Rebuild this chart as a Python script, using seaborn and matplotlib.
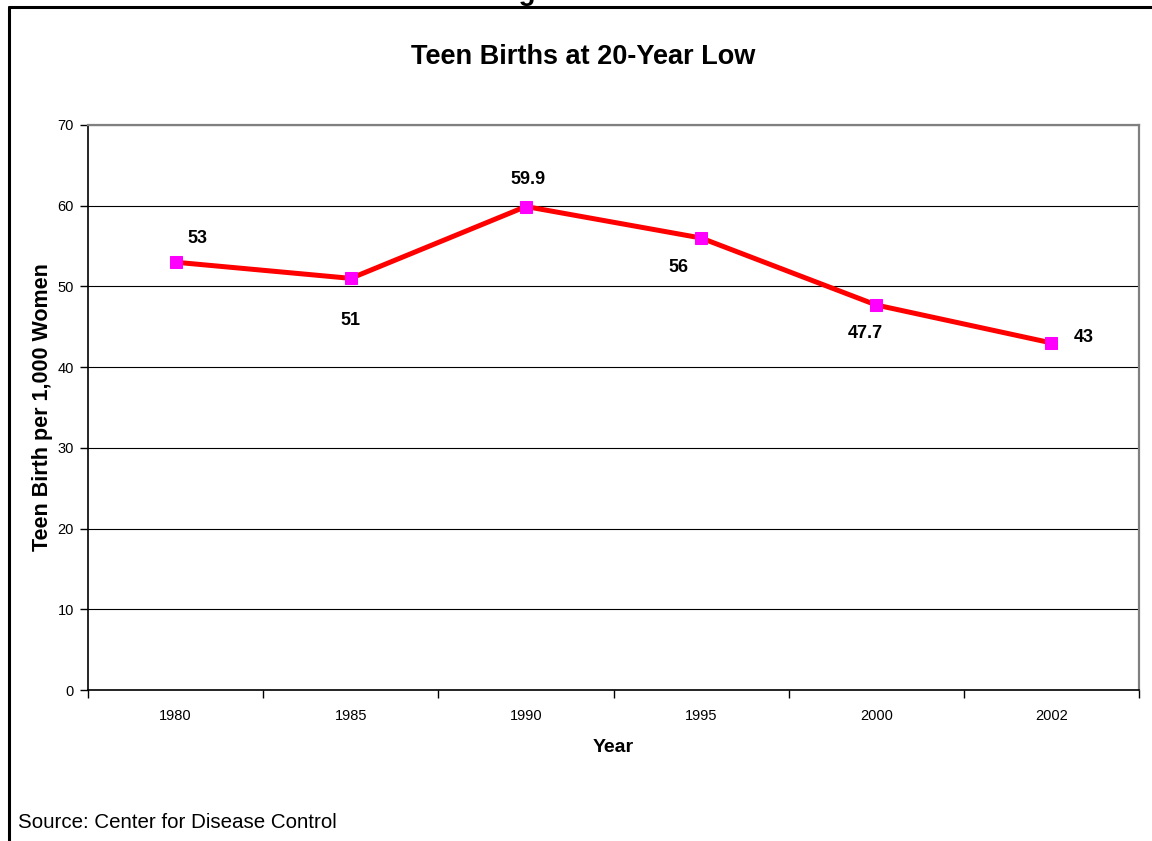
import matplotlib
matplotlib.use("Agg")
import matplotlib.pyplot as plt
from matplotlib.lines import Line2D
import seaborn as sns
import pandas as pd

years = ["1980", "1985", "1990", "1995", "2000", "2002"]
births = [53, 51, 59.9, 56, 47.7, 43]
value_labels = ["53", "51", "59.9", "56", "47.7", "43"]
y_ticks = [0, 10, 20, 30, 40, 50, 60, 70]

sns.set_theme(style="white")
plt.rcParams["font.family"] = ["Liberation Sans", "DejaVu Sans"]
plt.rcParams.update({"text.color": "black", "axes.labelcolor": "black",
                     "xtick.color": "black", "ytick.color": "black"})

df = pd.DataFrame({"Year": years, "Births": births})

fig = plt.figure(figsize=(11.52, 8.41), dpi=100)
ax = fig.add_axes([88 / 1152, 1 - 690 / 841, (1139 - 88) / 1152, (690 - 125) / 841])

sns.lineplot(data=df, x="Year", y="Births", ax=ax, color="#ff0000", linewidth=3.6,
             marker="s", markersize=8, markerfacecolor="#ff00ff",
             markeredgecolor="#ff00ff", sort=False, zorder=3)

ax.set_xlim(-0.5, len(years) - 0.5)
ax.set_ylim(0, 70)
ax.set_yticks(y_ticks)
ax.set_yticklabels([str(t) for t in y_ticks], fontsize=10.5)
ax.set_xticks(range(len(years)))
ax.set_xticklabels(years, fontsize=10.5)
ax.set_xticks([i - 0.5 for i in range(len(years) + 1)], minor=True)
ax.tick_params(axis="x", which="major", length=0, pad=14)
ax.tick_params(axis="x", which="minor", length=6, width=1, color="black", direction="out", bottom=True)
ax.tick_params(axis="y", which="major", length=6, width=1, color="black", direction="out", left=True, pad=4)

ax.yaxis.grid(True, color="black", linewidth=0.8)
ax.xaxis.grid(False)
ax.set_axisbelow(True)

for side in ["left", "bottom"]:
    ax.spines[side].set_color("black")
    ax.spines[side].set_linewidth(1.2)
for side in ["top", "right"]:
    ax.spines[side].set_color("#808080")
    ax.spines[side].set_linewidth(1.6)

ax.set_xlabel("Year", fontsize=14, fontweight="bold", labelpad=11.5)
ax.set_ylabel("Teen Birth per 1,000 Women", fontsize=15.5, fontweight="bold", labelpad=3.5)

# value labels placed around each marker
offsets = [(15.5, 17), (0, -30), (1.6, 19.5), (-16, -21), (-8, -20.5), (23.5, 4)]
for i, (v, lab, off) in enumerate(zip(births, value_labels, offsets)):
    ax.annotate(lab, (i, v), xytext=off, textcoords="offset points",
                ha="center", va="center", fontsize=13, fontweight="bold", color="black")

fig.text(583 / 1152, 1 - 57 / 841, "Teen Births at 20-Year Low", ha="center", va="center",
         fontsize=19.5, fontweight="bold")
fig.text(18 / 1152, 1 - 823 / 841, "Source: Center for Disease Control", ha="left", va="center",
         fontsize=14.8)
fig.text(548 / 1152, 1.0, "Figure 6", ha="center", va="baseline",
         fontsize=20, fontweight="bold")

# frame around the chart
fig.add_artist(Line2D([9 / 1152, 9 / 1152], [0, 1 - 7 / 841], transform=fig.transFigure,
                      color="black", linewidth=2.2))
fig.add_artist(Line2D([9 / 1152, 1], [1 - 7 / 841, 1 - 7 / 841], transform=fig.transFigure,
                      color="black", linewidth=2.2))

fig.savefig("out.png", dpi=100, facecolor="white")
